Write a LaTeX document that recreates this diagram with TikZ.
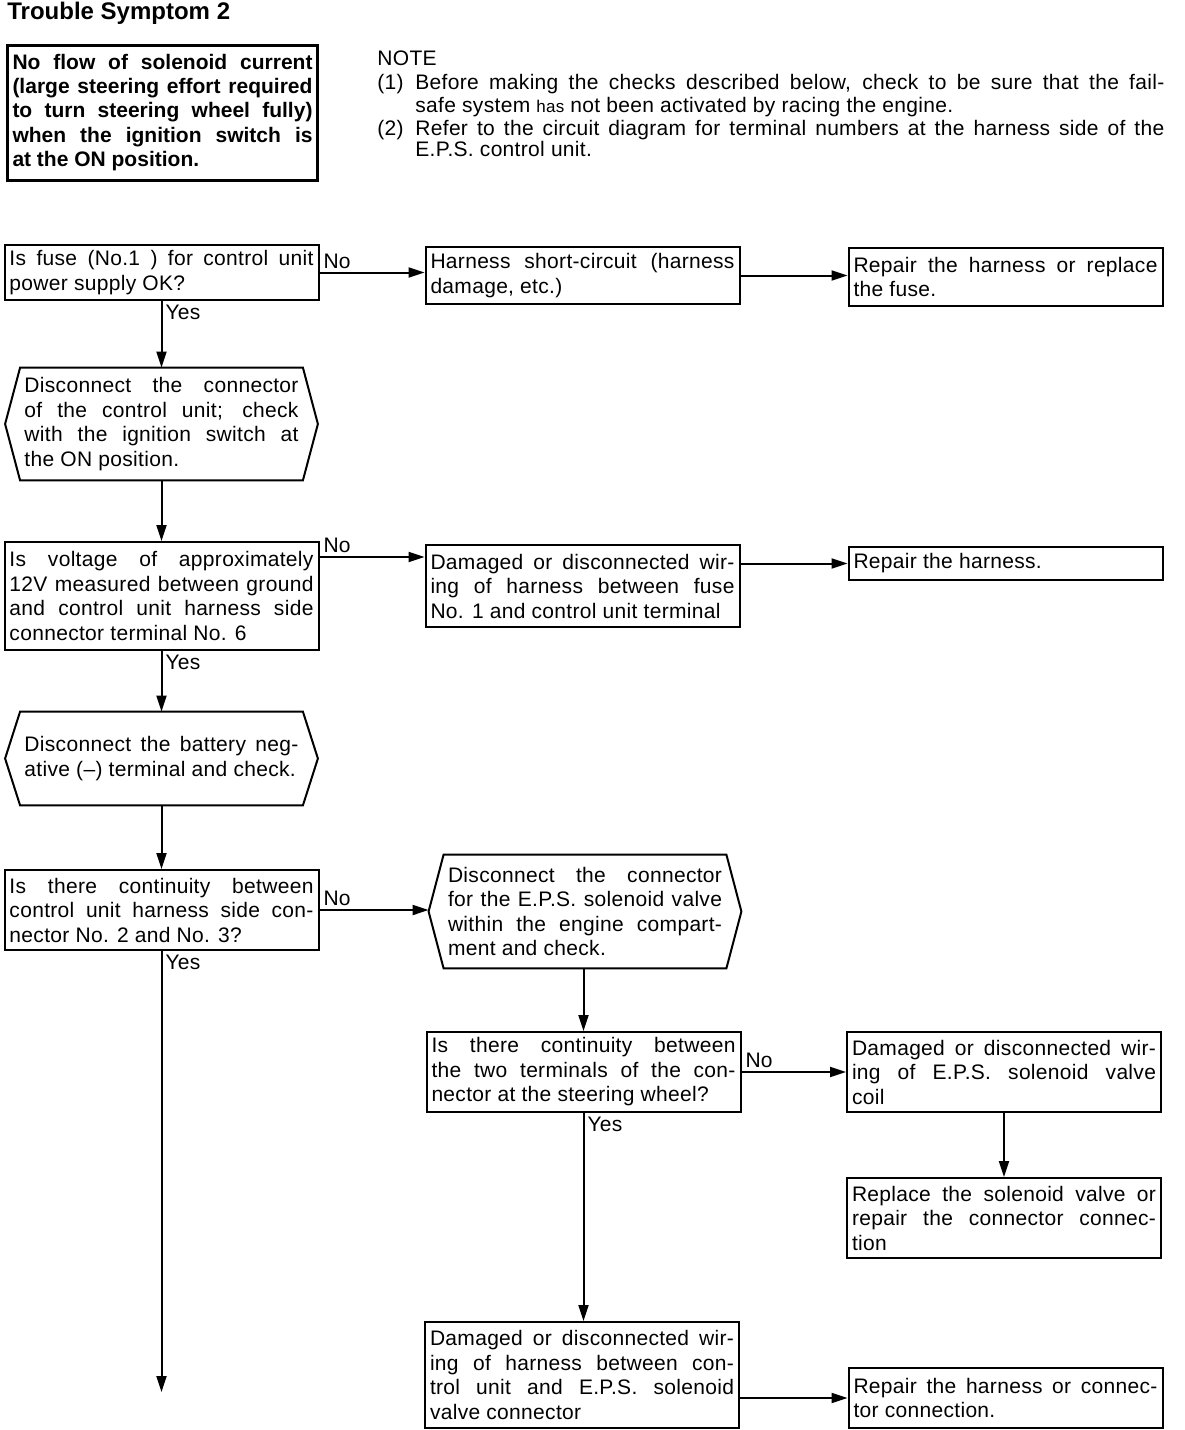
\documentclass[tikz,border=0pt]{standalone}
\usepackage{fontspec}
\setmainfont{Liberation Sans}[LetterSpace=1.5]
\newfontfamily\plainsans{Liberation Sans}
\usetikzlibrary{arrows.meta}
\hyphenpenalty=10000
\exhyphenpenalty=10000

\newcommand{\hexframe}[1]{\draw[line width=1pt] (#1.north west) -- (#1.north east) -- ([xshift=7.5pt]#1.east) -- (#1.south east) -- (#1.south west) -- ([xshift=-7.5pt]#1.west) -- cycle;}

\begin{document}
\begin{tikzpicture}[x=0.5pt,y=-0.5pt,
	every node/.style={font=\fontsize{10.5}{12.25}\selectfont},
	box/.style={draw,line width=1pt,text width=152pt,inner xsep=2.5pt,inner ysep=2pt,align=justify},
	hexbox/.style={text width=137pt,inner xsep=2pt,inner ysep=2pt,align=justify},
	conn/.style={line width=1pt,-{Triangle[length=8pt,width=5pt]}},
	lbl/.style={inner sep=1.5pt}]
			\useasboundingbox (0,0) rectangle (1184,1430);
			
			\node[anchor=west,inner sep=0pt,font=\plainsans\fontsize{12}{14}\bfseries] (title) at (7,13) {Trouble Symptom 2};
			\node[box,line width=1.5pt,text width=150pt,minimum height=67.5pt,font=\plainsans\fontsize{10.5}{12.1}\bfseries] (symptom) at (162.5,112.5) {No flow of solenoid current\linebreak (large steering effort required\linebreak to turn steering wheel fully)\linebreak when the ignition switch is\linebreak at the ON position.};
			
			\node[anchor=north west,inner sep=0pt,font=\fontsize{10.5}{11}\selectfont] (note) at (377,50) {NOTE};
			\node[anchor=north west,inner sep=0pt,font=\fontsize{10.5}{11}\selectfont] (n1) at (377,74) {(1)};
			\node[anchor=north west,inner sep=0pt,text width=374.5pt,align=justify,font=\fontsize{10.5}{11.5}\selectfont] (t1) at (415,74) {Before making the checks described below, check to be sure that the fail-\linebreak safe system {\fontsize{8.5}{10}\selectfont has} not been activated by racing the engine.};
			\node[anchor=north west,inner sep=0pt,font=\fontsize{10.5}{11}\selectfont] (n2) at (377,120) {(2)};
			\node[anchor=north west,inner sep=0pt,text width=374.5pt,align=justify,font=\fontsize{10.5}{10.5}\selectfont] (t2) at (415,120) {Refer to the circuit diagram for terminal numbers at the harness side of the\linebreak E.P.S. control unit.};
			
			\node[box,minimum height=27.5pt] (a) at (161.5,272.5) {Is fuse (No.1 ) for control unit\linebreak power supply OK?};
			\node[box,minimum height=28.5pt] (b) at (582.5,275.5) {Harness short-circuit (harness\linebreak damage, etc.)};
			\node[box,minimum height=29pt] (c) at (1005.5,277) {Repair the harness or replace\linebreak the fuse.};
			\node[hexbox,minimum height=56pt] (d) at (161.5,424) {Disconnect the connector\linebreak of the control unit; check\linebreak with the ignition switch at\linebreak the ON position.};
			\hexframe{d}
			\node[box,minimum height=54pt] (e) at (161.5,596) {Is voltage of approximately\linebreak 12V measured between ground\linebreak and control unit harness side\linebreak connector terminal No. 6};
			\node[box,minimum height=41pt] (f) at (582.5,586) {Damaged or disconnected wir-\linebreak ing of harness between fuse\linebreak No. 1 and control unit terminal};
			\node[box,minimum height=16.5pt] (g) at (1005.5,563.5) {Repair the harness.};
			\node[hexbox,minimum height=46.5pt] (h) at (161.5,758.5) {Disconnect the battery neg-\linebreak ative (--) terminal and check.};
			\hexframe{h}
			\node[box,minimum height=40pt] (i) at (161.5,910) {Is there continuity between\linebreak control unit harness side con-\linebreak nector No. 2 and No. 3?};
			\node[hexbox,minimum height=56.5pt] (j) at (585,911.5) {Disconnect the connector\linebreak for the E.P.S. solenoid valve\linebreak within the engine compart-\linebreak ment and check.};
			\hexframe{j}
			\node[box,minimum height=40pt] (k) at (583.5,1072) {Is there continuity between\linebreak the two terminals of the con-\linebreak nector at the steering wheel?};
			\node[box,minimum height=40pt] (l) at (1004,1072) {Damaged or disconnected wir-\linebreak ing of E.P.S. solenoid valve\linebreak coil};
			\node[box,minimum height=40pt] (m) at (1004,1218) {Replace the solenoid valve or\linebreak repair the connector connec-\linebreak tion};
			\node[box,minimum height=53pt] (n) at (582,1375) {Damaged or disconnected wir-\linebreak ing of harness between con-\linebreak trol unit and E.P.S. solenoid\linebreak valve connector};
			\node[box,minimum height=30pt] (o) at (1005.5,1398) {Repair the harness or connec-\linebreak tor connection.};
			
			\coordinate (eno) at ([yshift=-8pt]e.north east);
			\coordinate (jtip) at ([xshift=-7.5pt]j.west);
			\coordinate (iend) at (i.south |- 0,1392);
			
			\draw[conn] (a.east) -- node[lbl,pos=0,anchor=south west] (ano) {No} (a.east -| b.west);
			\draw[conn] (b.east) -- (b.east -| c.west);
			\draw[conn] (a.south) -- node[lbl,pos=0,anchor=north west] (ayes) {Yes} (d.north);
			\draw[conn] (d.south) -- (e.north);
			\draw[conn] (eno) -- node[lbl,pos=0,anchor=south west] (eno-lbl) {No} (eno -| f.west);
			\draw[conn] (g.west -| f.east) -- (g.west);
			\draw[conn] (e.south) -- node[lbl,pos=0,anchor=north west] (eyes) {Yes} (h.north);
			\draw[conn] (h.south) -- (i.north);
			\draw[conn] (i.east) -- node[lbl,pos=0,anchor=south west] (ino) {No} (i.east -| jtip);
			\draw[conn] (i.south) -- node[lbl,pos=0,anchor=north west] (iyes) {Yes} (iend);
			\draw[conn] (k.north |- j.south) -- (k.north);
			\draw[conn] (k.east) -- node[lbl,pos=0,anchor=south west] (kno) {No} (l.west);
			\draw[conn] (l.south) -- (m.north);
			\draw[conn] (k.south) -- node[lbl,pos=0,anchor=north west] (kyes) {Yes} (k.south |- n.north);
			\draw[conn] (o.west -| n.east) -- (o.west);
\end{tikzpicture}
\end{document}
